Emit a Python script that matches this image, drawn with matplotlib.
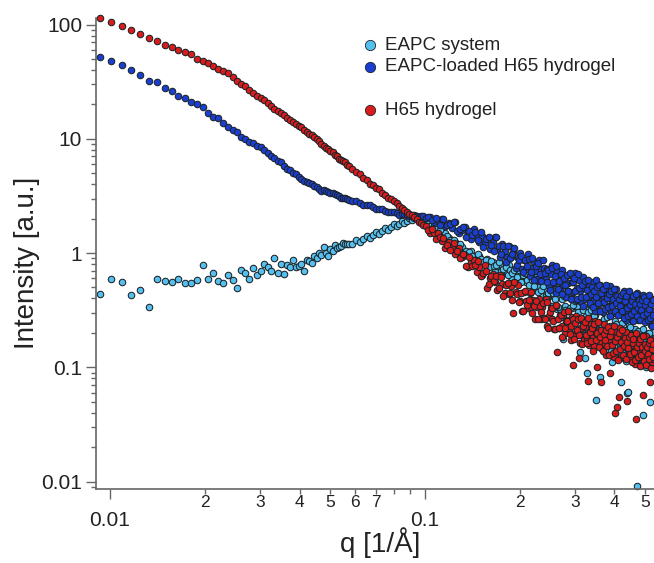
import matplotlib
matplotlib.use("Agg")
import matplotlib.pyplot as plt
from matplotlib.ticker import FixedLocator, FixedFormatter, NullFormatter

plt.rcParams['font.family'] = ['Liberation Sans', 'DejaVu Sans']

# scattering vector q [1/A], shared by the three curves
q = [0.0093, 0.0101, 0.0109, 0.0117, 0.0125, 0.0133, 0.0141, 0.0149, 0.0157, 0.0165,
     0.0173, 0.0181, 0.0189, 0.0197, 0.0205, 0.0213, 0.0221, 0.0229, 0.0237, 0.0245,
     0.0253, 0.0261, 0.0269, 0.0277, 0.0285, 0.0293, 0.0301, 0.0309, 0.0317, 0.0325,
     0.0333, 0.0341, 0.0349, 0.0357, 0.0365, 0.0373, 0.0381, 0.0389, 0.0397, 0.0405,
     0.0413, 0.0421, 0.0429, 0.0437, 0.0445, 0.0453, 0.0461, 0.0469, 0.0477, 0.0485,
     0.0493, 0.0501, 0.0509, 0.0517, 0.0525, 0.0533, 0.0541, 0.0549, 0.0557, 0.0565,
     0.0573,
     0.0589, 0.0605, 0.0621, 0.0637, 0.0653, 0.0669, 0.0685, 0.0701, 0.0717, 0.0733,
     0.0749, 0.0765, 0.0781, 0.0797, 0.0813, 0.0829, 0.0845, 0.0861, 0.0877, 0.0893,
     0.0909, 0.0925, 0.0941, 0.0957, 0.0973, 0.0989,
     0.101, 0.104, 0.107, 0.110, 0.113, 0.116, 0.119, 0.122, 0.125, 0.128,
     0.131, 0.134, 0.137, 0.140, 0.143, 0.146, 0.149, 0.152, 0.155, 0.158,
     0.161, 0.164, 0.167, 0.170, 0.173, 0.176, 0.179, 0.182, 0.185, 0.188,
     0.191, 0.194, 0.197, 0.200, 0.203, 0.206, 0.209, 0.212, 0.215, 0.218,
     0.221, 0.224, 0.227, 0.230, 0.233, 0.236, 0.239, 0.242, 0.245, 0.248,
     0.251, 0.254, 0.257, 0.260, 0.263, 0.266, 0.269, 0.272, 0.275, 0.278,
     0.281, 0.284, 0.287, 0.290, 0.293, 0.296, 0.299, 0.302, 0.305, 0.308,
     0.311, 0.314, 0.317, 0.320, 0.323, 0.326, 0.329, 0.332, 0.335, 0.338,
     0.341, 0.344, 0.347, 0.350, 0.353, 0.356, 0.359, 0.362, 0.365, 0.368,
     0.371, 0.374, 0.377, 0.380, 0.383, 0.386, 0.389, 0.392, 0.395, 0.398,
     0.401, 0.404, 0.407, 0.410, 0.413, 0.416, 0.419, 0.422, 0.425, 0.428,
     0.431, 0.434, 0.437, 0.440, 0.443, 0.446, 0.449, 0.452, 0.455, 0.458,
     0.461, 0.464, 0.467, 0.470, 0.473, 0.476, 0.479, 0.482, 0.485, 0.488,
     0.491, 0.494, 0.497, 0.500, 0.503, 0.506, 0.509, 0.512, 0.515, 0.518,
     0.521, 0.524, 0.527, 0.530, 0.533]

# extra q points in the dense high-q band
q_mid = [0.1025, 0.1055, 0.1085, 0.1115, 0.1145, 0.1175, 0.1205, 0.1235, 0.1265, 0.1295,
         0.1325, 0.1355, 0.1385, 0.1415, 0.1445, 0.1475, 0.1505, 0.1535, 0.1565, 0.1595,
         0.1625, 0.1655, 0.1685, 0.1715, 0.1745, 0.1775, 0.1805, 0.1835, 0.1865, 0.1895,
         0.1925, 0.1955, 0.1985, 0.2015, 0.2045, 0.2075, 0.2105, 0.2135, 0.2165, 0.2195,
         0.2225, 0.2255, 0.2285, 0.2315, 0.2345, 0.2375, 0.2405, 0.2435, 0.2465, 0.2495,
         0.2525, 0.2555, 0.2585, 0.2615, 0.2645, 0.2675, 0.2705, 0.2735, 0.2765, 0.2795,
         0.2825, 0.2855, 0.2885, 0.2915, 0.2945, 0.2975, 0.3005, 0.3035, 0.3065, 0.3095,
         0.3125, 0.3155, 0.3185, 0.3215, 0.3245, 0.3275, 0.3305, 0.3335, 0.3365, 0.3395,
         0.3425, 0.3455, 0.3485, 0.3515, 0.3545, 0.3575, 0.3605, 0.3635, 0.3665, 0.3695,
         0.3725, 0.3755, 0.3785, 0.3815, 0.3845, 0.3875, 0.3905, 0.3935, 0.3965, 0.3995,
         0.4025, 0.4055, 0.4085, 0.4115, 0.4145, 0.4175, 0.4205, 0.4235, 0.4265, 0.4295,
         0.4325, 0.4355, 0.4385, 0.4415, 0.4445, 0.4475, 0.4505, 0.4535, 0.4565, 0.4595,
         0.4625, 0.4655, 0.4685, 0.4715, 0.4745, 0.4775, 0.4805, 0.4835, 0.4865, 0.4895,
         0.4925, 0.4955, 0.4985, 0.5015, 0.5045, 0.5075, 0.5105, 0.5135, 0.5165, 0.5195,
         0.5225, 0.5255, 0.5285, 0.5315]

# EAPC system
eapc = [0.438, 0.589, 0.554, 0.429, 0.472, 0.337, 0.596, 0.566, 0.554, 0.589,
        0.546, 0.546, 0.577, 0.790, 0.589, 0.668, 0.573, 0.543, 0.638, 0.577,
        0.497, 0.706, 0.668, 0.589, 0.735, 0.646, 0.696, 0.801, 0.750, 0.696,
        0.899, 0.664, 0.801, 0.655, 0.780, 0.759, 0.863, 0.759, 0.765, 0.801,
        0.692, 0.868, 0.850, 0.820, 0.941, 0.900, 1.006, 0.960, 1.120, 0.994,
        0.947, 1.090, 1.040, 1.170, 1.100, 1.135, 1.160, 1.220, 1.190, 1.190,
        1.210,
        1.21, 1.30, 1.24, 1.33, 1.41, 1.35, 1.44, 1.53, 1.47, 1.56,
        1.66, 1.59, 1.68, 1.78, 1.71, 1.80, 1.90, 1.83, 1.92, 2.02,
        1.94, 2.02, 2.06, 2.01, 1.99, 1.93,
        1.746, 1.754, 1.737, 1.551, 1.399, 1.509, 1.355, 1.216, 1.245, 1.121,
        1.140, 0.989, 1.016, 1.035, 0.916, 0.845, 0.938, 0.873, 0.820, 0.890,
        0.802, 0.829, 0.717, 0.773, 0.806, 0.689, 0.745, 0.675, 0.782, 0.616,
        0.668, 0.710, 0.636, 0.575, 0.708, 0.630, 0.558, 0.629, 0.555, 0.620,
        0.504, 0.573, 0.631, 0.500, 0.424, 0.561, 0.483, 0.420, 0.551, 0.423,
        0.478, 0.331, 0.421, 0.487, 0.325, 0.415, 0.324, 0.499, 0.176, 0.342,
        0.413, 0.315, 0.247, 0.437, 0.331, 0.251, 0.343, 0.260, 0.343, 0.216,
        0.137, 0.376, 0.237, 0.180, 0.120, 0.0886, 0.205, 0.326, 0.222, 0.272,
        0.166, 0.235, 0.289, 0.0517, 0.242, 0.185, 0.082, 0.156, 0.207, 0.255,
        0.195, 0.155, 0.276, 0.210, 0.161, 0.222, 0.169, 0.112, 0.143, 0.197,
        0.252, 0.161, 0.123, 0.219, 0.174, 0.143, 0.075, 0.157, 0.195, 0.120,
        0.172, 0.214, 0.0592, 0.183, 0.0611, 0.234, 0.120, 0.160, 0.198, 0.153,
        0.122, 0.218, 0.168, 0.0092, 0.179, 0.137, 0.184, 0.117, 0.163, 0.209,
        0.134, 0.038, 0.185, 0.147, 0.122, 0.196, 0.135, 0.168, 0.103, 0.050,
        0.185, 0.114, 0.158, 0.121, 0.202]

eapc_mid = [1.944, 1.623, 1.609, 1.585, 1.352, 1.401, 1.289, 1.297, 1.139, 1.196,
            0.995, 1.048, 1.029, 0.935, 0.876, 0.981, 0.891, 0.829, 0.871, 0.761,
            0.858, 0.768, 0.789, 0.830, 0.698, 0.728, 0.755, 0.638, 0.712, 0.666,
            0.714, 0.617, 0.712, 0.554, 0.644, 0.662, 0.579, 0.528, 0.675, 0.577,
            0.516, 0.586, 0.454, 0.589, 0.477, 0.510, 0.576, 0.405, 0.450, 0.494,
            0.347, 0.449, 0.393, 0.467, 0.340, 0.478, 0.273, 0.392, 0.424, 0.315,
            0.257, 0.467, 0.329, 0.258, 0.353, 0.207, 0.380, 0.258, 0.304, 0.386,
            0.218, 0.267, 0.316, 0.192, 0.283, 0.240, 0.305, 0.208, 0.318, 0.167,
            0.256, 0.281, 0.206, 0.169, 0.312, 0.221, 0.175, 0.241, 0.142, 0.263,
            0.180, 0.214, 0.274, 0.156, 0.192, 0.229, 0.140, 0.208, 0.177, 0.227,
            0.156, 0.239, 0.127, 0.195, 0.216, 0.159, 0.131, 0.244, 0.174, 0.139,
            0.192, 0.114, 0.212, 0.146, 0.174, 0.225, 0.129, 0.160, 0.191, 0.118,
            0.175, 0.151, 0.194, 0.133, 0.206, 0.110, 0.170, 0.189, 0.140, 0.116,
            0.216, 0.154, 0.123, 0.170, 0.101, 0.188, 0.130, 0.155, 0.200, 0.115,
            0.142, 0.170, 0.105, 0.157]

# EAPC-loaded H65 hydrogel
loaded = [52.2, 48.1, 44.1, 39.9, 36.1, 32.2, 31.3, 27.6, 26.1, 23.6,
          22.8, 21.1, 20.1, 18.8, 16.7, 15.4, 15.1, 13.8, 12.7, 11.9,
          11.4, 10.4, 10.0, 9.3, 9.15, 8.7, 8.5, 7.91, 7.56, 7.0,
          6.77, 6.43, 6.3, 5.80, 5.4, 5.28, 5.05, 4.95, 4.63, 4.46,
          4.25, 4.21, 4.09, 4.05, 3.87, 3.76, 3.67, 3.52, 3.53, 3.47,
          3.42, 3.36, 3.38, 3.26, 3.20, 3.16, 3.05, 3.06, 3.02, 2.97,
          2.93,
          2.86, 2.84, 2.74, 2.64, 2.63, 2.61, 2.53, 2.45, 2.43, 2.42,
          2.35, 2.28, 2.29, 2.29, 2.23, 2.17, 2.19, 2.21, 2.16, 2.12,
          2.13, 2.15, 2.11, 2.06, 2.09, 2.10,
          2.026, 2.087, 1.872, 1.956, 2.003, 1.732, 1.835, 1.661, 1.885, 1.497,
          1.603, 1.682, 1.495, 1.337, 1.628, 1.435, 1.256, 1.409, 1.227, 1.366,
          1.086, 1.240, 1.373, 1.077, 0.914, 1.203, 1.040, 0.914, 1.157, 0.915,
          1.011, 0.744, 0.899, 1.002, 0.728, 0.872, 0.722, 0.983, 0.627, 0.746,
          0.851, 0.702, 0.592, 0.876, 0.718, 0.587, 0.733, 0.598, 0.730, 0.517,
          0.652, 0.778, 0.549, 0.443, 0.692, 0.575, 0.491, 0.705, 0.522, 0.612,
          0.416, 0.548, 0.643, 0.437, 0.560, 0.452, 0.675, 0.390, 0.490, 0.579,
          0.464, 0.384, 0.613, 0.491, 0.394, 0.510, 0.410, 0.515, 0.356, 0.461,
          0.562, 0.389, 0.313, 0.580, 0.416, 0.356, 0.521, 0.383, 0.455, 0.306,
          0.410, 0.487, 0.327, 0.425, 0.343, 0.517, 0.300, 0.378, 0.449, 0.362,
          0.300, 0.481, 0.388, 0.312, 0.406, 0.327, 0.414, 0.288, 0.376, 0.461,
          0.321, 0.259, 0.417, 0.347, 0.297, 0.437, 0.323, 0.385, 0.260, 0.349,
          0.417, 0.281, 0.367, 0.296, 0.449, 0.261, 0.330, 0.394, 0.318, 0.265,
          0.427, 0.345, 0.279, 0.363, 0.294, 0.372, 0.259, 0.338, 0.415, 0.289,
          0.234, 0.376, 0.313, 0.269, 0.395]

loaded_mid = [2.053, 1.950, 2.029, 1.764, 1.974, 1.757, 1.792, 1.881, 1.559, 1.624,
              1.681, 1.389, 1.554, 1.432, 1.539, 1.296, 1.515, 1.131, 1.336, 1.373,
              1.170, 1.044, 1.380, 1.142, 0.990, 1.141, 0.841, 1.146, 0.910, 0.982,
              1.108, 0.783, 0.868, 0.945, 0.687, 0.861, 0.766, 0.885, 0.684, 0.899,
              0.580, 0.769, 0.815, 0.653, 0.564, 0.866, 0.671, 0.562, 0.705, 0.472,
              0.742, 0.555, 0.631, 0.767, 0.483, 0.571, 0.654, 0.438, 0.601, 0.526,
              0.641, 0.469, 0.664, 0.394, 0.558, 0.603, 0.469, 0.399, 0.657, 0.496,
              0.410, 0.530, 0.345, 0.568, 0.416, 0.478, 0.584, 0.368, 0.436, 0.502,
              0.337, 0.464, 0.409, 0.500, 0.368, 0.523, 0.312, 0.443, 0.481, 0.376,
              0.321, 0.530, 0.402, 0.334, 0.434, 0.283, 0.468, 0.344, 0.397, 0.486,
              0.308, 0.366, 0.423, 0.285, 0.393, 0.347, 0.426, 0.314, 0.448, 0.269,
              0.383, 0.417, 0.327, 0.281, 0.465, 0.354, 0.295, 0.384, 0.252, 0.417,
              0.308, 0.357, 0.438, 0.279, 0.332, 0.385, 0.260, 0.360, 0.318, 0.391,
              0.289, 0.412, 0.247, 0.352, 0.384, 0.301, 0.259, 0.428, 0.326, 0.272,
              0.355, 0.232, 0.385, 0.285]

# H65 hydrogel
h65 = [115, 105, 98, 88.8, 82.4, 76.5, 72, 66.4, 63, 60.1,
       57, 54.7, 50.1, 48.1, 45.7, 43.3, 41, 39.1, 37.3, 34.9,
       32.0, 30.4, 28.9, 26.9, 25.4, 23.6, 22.7, 21.8, 20.4, 19.4,
       18.2, 17.6, 16.8, 16.3, 15.3, 14.7, 13.9, 13.5, 12.9, 12.6,
       12.0, 11.5, 10.9, 10.7, 10.35, 9.98, 9.55, 9.06, 8.72, 8.25,
       8.09, 7.81, 7.65, 7.27, 7.02, 6.70, 6.55, 6.34, 6.20, 5.95,
       5.76,
       5.43, 5.11, 4.92, 4.58, 4.34, 4.05, 3.91, 3.72, 3.60, 3.38,
       3.22, 3.03, 2.95, 2.83, 2.76, 2.60, 2.50, 2.36, 2.30, 2.21,
       2.16, 2.05, 1.97, 1.87, 1.83, 1.76,
       1.741, 1.492, 1.505, 1.512, 1.274, 1.114, 1.253, 1.108, 0.988, 1.108,
       0.922, 0.955, 0.752, 0.832, 0.874, 0.677, 0.751, 0.638, 0.784, 0.494,
       0.604, 0.656, 0.555, 0.476, 0.641, 0.538, 0.450, 0.531, 0.442, 0.515,
       0.300, 0.456, 0.526, 0.384, 0.314, 0.455, 0.382, 0.328, 0.448, 0.337,
       0.386, 0.265, 0.340, 0.392, 0.267, 0.336, 0.269, 0.395, 0.229, 0.283,
       0.332, 0.264, 0.217, 0.346, 0.136, 0.221, 0.286, 0.229, 0.288, 0.198,
       0.256, 0.312, 0.216, 0.173, 0.275, 0.105, 0.194, 0.282, 0.207, 0.120,
       0.164, 0.219, 0.259, 0.174, 0.225, 0.181, 0.076, 0.157, 0.197, 0.237,
       0.188, 0.153, 0.255, 0.201, 0.100, 0.211, 0.167, 0.074, 0.145, 0.192,
       0.238, 0.160, 0.127, 0.211, 0.173, 0.090, 0.220, 0.158, 0.191, 0.124,
       0.040, 0.205, 0.045, 0.178, 0.055, 0.219, 0.122, 0.157, 0.190, 0.151,
       0.123, 0.205, 0.051, 0.129, 0.172, 0.137, 0.176, 0.119, 0.158, 0.197,
       0.133, 0.106, 0.035, 0.144, 0.122, 0.185, 0.133, 0.161, 0.105, 0.145,
       0.057, 0.114, 0.152, 0.121, 0.189, 0.105, 0.135, 0.163, 0.130, 0.074,
       0.178, 0.141, 0.112, 0.149, 0.118]

h65_mid = [1.581, 1.626, 1.329, 1.389, 1.353, 1.179, 1.053, 1.217, 1.037, 0.911,
           0.976, 0.763, 0.930, 0.764, 0.789, 0.846, 0.632, 0.669, 0.701, 0.531,
           0.628, 0.564, 0.627, 0.498, 0.618, 0.421, 0.527, 0.547, 0.446, 0.387,
           0.556, 0.440, 0.371, 0.449, 0.310, 0.461, 0.350, 0.388, 0.454, 0.299,
           0.343, 0.383, 0.263, 0.347, 0.304, 0.362, 0.266, 0.369, 0.220, 0.306,
           0.328, 0.254, 0.216, 0.354, 0.267, 0.220, 0.284, 0.185, 0.303, 0.222,
           0.255, 0.310, 0.196, 0.231, 0.266, 0.178, 0.244, 0.214, 0.262, 0.192,
           0.272, 0.161, 0.229, 0.247, 0.193, 0.164, 0.270, 0.204, 0.169, 0.222,
           0.140, 0.240, 0.172, 0.201, 0.249, 0.152, 0.183, 0.214, 0.139, 0.197,
           0.172, 0.214, 0.154, 0.224, 0.129, 0.188, 0.206, 0.158, 0.133, 0.228,
           0.170, 0.139, 0.184, 0.116, 0.200, 0.144, 0.168, 0.210, 0.128, 0.155,
           0.181, 0.118, 0.168, 0.147, 0.183, 0.132, 0.193, 0.111, 0.163, 0.178,
           0.137, 0.116, 0.200, 0.149, 0.122, 0.162, 0.103, 0.177, 0.127, 0.149,
           0.186, 0.114, 0.138, 0.161, 0.105, 0.149, 0.131, 0.163, 0.118, 0.172,
           0.0991, 0.145, 0.159, 0.123]

labels = ['EAPC system', 'EAPC-loaded H65 hydrogel', 'H65 hydrogel']
colors = ['#55c0ee', '#1a3fd0', '#d81c1c']
edge = '#1c2328'

x_major = [0.01, 0.1]
x_major_labels = ['0.01', '0.1']
x_minor = [0.02, 0.03, 0.04, 0.05, 0.06, 0.07, 0.08, 0.09, 0.2, 0.3, 0.4, 0.5]
x_minor_labels = ['2', '3', '4', '5', '6', '7', '', '', '2', '3', '4', '5']
y_major = [0.01, 0.1, 1, 10, 100]
y_major_labels = ['0.01', '0.1', '1', '10', '100']

fig = plt.figure(figsize=(6.54, 5.63), dpi=100)
ax = fig.add_axes([0.1468, 0.1314, 0.8532, 0.8366])
ax.set_xscale('log')
ax.set_yscale('log')

# draw order: EAPC under the loaded gel, H65 on top
series = [(eapc, eapc_mid, colors[0], 2), (loaded, loaded_mid, colors[1], 3), (h65, h65_mid, colors[2], 4)]
for y, y_mid, c, z in series:
    ax.scatter(q + q_mid, y + y_mid, s=22, c=c, edgecolors=edge, linewidths=0.75,
               zorder=z, clip_on=False)

ax.set_xlim(0.00903, 0.534)
ax.set_ylim(0.0086, 114)

for side in ['top', 'right']:
    ax.spines[side].set_visible(False)
for side in ['left', 'bottom']:
    ax.spines[side].set_color('#666666')
    ax.spines[side].set_linewidth(1.2)

ax.xaxis.set_major_locator(FixedLocator(x_major))
ax.xaxis.set_major_formatter(FixedFormatter(x_major_labels))
ax.xaxis.set_minor_locator(FixedLocator(x_minor))
ax.xaxis.set_minor_formatter(FixedFormatter(x_minor_labels))
ax.yaxis.set_major_locator(FixedLocator(y_major))
ax.yaxis.set_major_formatter(FixedFormatter(y_major_labels))
ax.yaxis.set_minor_formatter(NullFormatter())

ax.tick_params(which='major', direction='out', length=7, width=1, color='#666666',
               labelsize=15, labelcolor='#222222')
ax.tick_params(which='minor', direction='out', length=3.5, width=1, color='#666666',
               labelsize=12.5, labelcolor='#222222')
ax.tick_params(axis='x', which='minor', pad=1)
ax.tick_params(axis='x', which='major', pad=9)
ax.tick_params(axis='y', which='major', pad=3)

ax.set_xlabel('q [1/Å]', fontsize=20, color='#222222')
ax.set_ylabel('Intensity [a.u.]', fontsize=20, color='#222222')
ax.xaxis.set_label_coords(0.509, -0.082)
ax.yaxis.set_label_coords(-0.10, 0.48)

# legend, with a gap before the last entry
for label, c, ypos in zip(labels, colors, [0.9427, 0.8966, 0.8047]):
    ax.scatter([0.491], [ypos], s=55, c=c, edgecolors=edge, linewidths=0.6,
               transform=ax.transAxes, clip_on=False, zorder=5)
    ax.text(0.518, ypos, label, transform=ax.transAxes, va='center', ha='left',
            fontsize=13.5, color='#222222')

fig.savefig('out.png', dpi=100)
